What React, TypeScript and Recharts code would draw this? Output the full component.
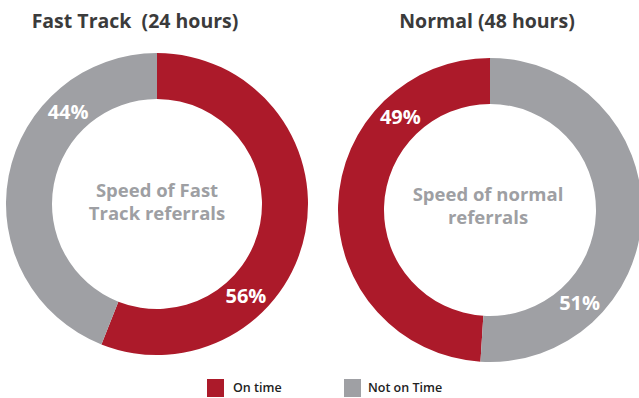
import React from 'react';
import { PieChart, Pie, Cell } from 'recharts';

const categories = ['On time', 'Not on Time'];
const fastTrackValues = [56, 44];
const normalValues = [49, 51];
const chartTitles = ['Fast Track  (24 hours)', 'Normal (48 hours)'];
const fastTrackCaption = ['Speed of Fast', 'Track referrals'];
const normalCaption = ['Speed of normal', 'referrals'];

const colors = ['#AC1A2A', '#9FA0A4'];
const FONT = '"Open Sans", "Noto Sans", sans-serif';
const RAD = Math.PI / 180;

const fastTrackData = categories.map((name, i) => ({ name, value: fastTrackValues[i] }));
const normalData = categories.map((name, i) => ({ name, value: normalValues[i] }));

// Percent labels sit on the ring, snapped to whichever diagonal is nearest the slice middle
const renderPercent = (props: any) => {
  const { cx, cy, innerRadius, outerRadius, midAngle, value } = props;
  const angle = Math.cos((midAngle - 134) * RAD) > Math.cos((midAngle + 46) * RAD) ? 134 : -46;
  const r = (innerRadius + outerRadius) / 2;
  const x = cx + r * Math.cos(angle * RAD);
  const y = cy - r * Math.sin(angle * RAD);
  return (
    <text x={x} y={y + 7} textAnchor="middle" fill="#fff" fontSize={20} fontWeight={700} fontFamily={FONT}>
      {value}%
    </text>
  );
};

const Caption = ({ x, y, lines }: { x: number; y: number; lines: string[] }) => (
  <g>
    {lines.map((line, i) => (
      <text key={line} x={x} y={y + i * 23} textAnchor="middle" fill="#9E9FA3" fontSize={18.5} fontWeight={700} fontFamily={FONT}>
        {line}
      </text>
    ))}
  </g>
);

const App = () => {
  return (
    <div style={{ position: 'absolute', left: 0, top: 0, width: 639, height: 398, background: '#fff' }}>
      <PieChart width={639} height={398} margin={{ top: 0, right: 0, bottom: 0, left: 0 }}>
        <Pie
          data={fastTrackData}
          dataKey="value"
          cx={157}
          cy={204}
          innerRadius={105}
          outerRadius={151}
          startAngle={90}
          endAngle={-270}
          stroke="none"
          label={renderPercent}
          labelLine={false}
          isAnimationActive={false}
        >
          {fastTrackData.map((d, i) => (
            <Cell key={d.name} fill={colors[i]} />
          ))}
        </Pie>
        <Pie
          data={normalData}
          dataKey="value"
          cx={490}
          cy={210}
          innerRadius={106}
          outerRadius={152}
          startAngle={90}
          endAngle={450}
          stroke="none"
          label={renderPercent}
          labelLine={false}
          isAnimationActive={false}
        >
          {normalData.map((d, i) => (
            <Cell key={d.name} fill={colors[i]} />
          ))}
        </Pie>

        <text x={135} y={28} textAnchor="middle" fill="#3B3B3B" fontSize={19.5} fontWeight={700} fontFamily={FONT} style={{ whiteSpace: 'pre' }}>
          {chartTitles[0]}
        </text>
        <text x={487} y={28} textAnchor="middle" fill="#3B3B3B" fontSize={19.5} fontWeight={700} fontFamily={FONT}>
          {chartTitles[1]}
        </text>

        <Caption x={157} y={197} lines={fastTrackCaption} />
        <Caption x={488} y={201} lines={normalCaption} />

        {categories.map((name, i) => (
          <g key={name}>
            <rect x={207 + i * 137} y={379} width={17} height={18} fill={colors[i]} />
            <text x={233 + i * 135} y={392} fill="#222" fontSize={12.5} fontWeight={600} fontFamily={FONT}>
              {name}
            </text>
          </g>
        ))}
      </PieChart>
    </div>
  );
};

export default App;
